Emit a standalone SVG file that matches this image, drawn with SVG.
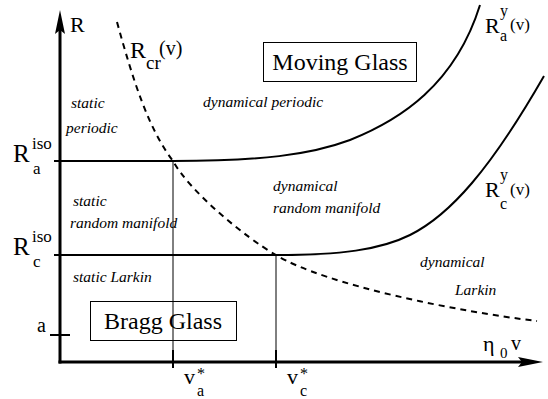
<svg xmlns="http://www.w3.org/2000/svg" width="548" height="399" viewBox="0 0 548 399">
<style>
text{font-family:"Liberation Serif","Times New Roman",serif;fill:#000}
.it{font-style:italic;font-size:15.5px}
.big{font-size:24px}
.ax{stroke:#000;stroke-width:3;fill:none}
.ln{stroke:#000;stroke-width:2;fill:none}
.thin{stroke:#000;stroke-width:1;fill:none}
.dash{stroke:#000;stroke-width:2;fill:none;stroke-dasharray:6 5}
.box{stroke:#000;stroke-width:1;fill:none}
</style>
<rect width="548" height="399" fill="#fff"/>
<g id="connectors">
  <line class="ax" x1="60" y1="363.5" x2="60" y2="28"/>
  <polygon points="60,10 55,34 60,30 65,34" fill="#000"/>
  <line class="ax" x1="58.5" y1="362" x2="525" y2="362"/>
  <polygon points="543,362 518,357 522,362 518,367" fill="#000"/>
  <line class="ln" x1="50" y1="335" x2="70" y2="335"/>
  <line class="thin" x1="173" y1="161" x2="173" y2="362"/>
  <line class="thin" x1="276" y1="255" x2="276" y2="362"/>
  <line class="ln" x1="173" y1="350" x2="173" y2="368"/>
  <line class="ln" x1="276" y1="350" x2="276" y2="368"/>
  <path id="Ra" class="ln" d="M54,161 L173,161 C260,161 310,155 350,140 C400,120 455,85 480,5"/>
  <path id="Rc" class="ln" d="M54,255 L276,255 C340,255 380,250 410,235 C450,215 490,170 544,76"/>
  <path id="Rcr" class="dash" d="M117,22 C133,80 148,128 173,161 C190,192 246,238 276,255 C325,285 460,312 537,321"/>
</g>
<g id="axis-labels">
  <text x="70" y="32" font-size="22">R</text>
  <text x="483" y="351" font-size="22">η</text>
  <text x="500" y="358" font-size="15">0</text>
  <text x="511" y="350" font-size="20">v</text>
  <text x="37" y="332" font-size="20">a</text>
</g>
<g id="Ra-iso">
  <text x="13" y="162" font-size="25">R</text>
  <text x="32" y="149" font-size="17">iso</text>
  <text x="33" y="174" font-size="17">a</text>
</g>
<g id="Rc-iso">
  <text x="13" y="255" font-size="25">R</text>
  <text x="32" y="242" font-size="17">iso</text>
  <text x="33" y="267" font-size="17">c</text>
</g>
<g id="Rcr-label">
  <text x="130" y="58" font-size="24">R</text>
  <text x="146" y="69" font-size="19">cr</text>
  <text x="159" y="55" font-size="20">(v)</text>
</g>
<g id="Ray-label">
  <text x="485" y="33" font-size="22">R</text>
  <text x="500" y="16" font-size="16">y</text>
  <text x="500" y="41" font-size="16">a</text>
  <text x="510" y="30" font-size="17">(v)</text>
</g>
<g id="Rcy-label">
  <text x="485" y="197" font-size="22">R</text>
  <text x="500" y="180" font-size="16">y</text>
  <text x="500" y="209" font-size="16">c</text>
  <text x="510" y="195" font-size="17">(v)</text>
</g>
<g id="va-label">
  <text x="184" y="384" font-size="22">v</text>
  <text x="197" y="379" font-size="16">*</text>
  <text x="197" y="396" font-size="16">a</text>
</g>
<g id="vc-label">
  <text x="287" y="384" font-size="22">v</text>
  <text x="300" y="379" font-size="16">*</text>
  <text x="300" y="396" font-size="16">c</text>
</g>
<g id="moving-glass">
  <rect class="box" x="263.5" y="42.5" width="153" height="39"/>
  <text class="big" x="340" y="70" text-anchor="middle">Moving Glass</text>
</g>
<g id="bragg-glass">
  <rect class="box" x="90.5" y="301.5" width="146" height="39"/>
  <text class="big" x="163" y="329" text-anchor="middle">Bragg Glass</text>
</g>
<g id="regions">
  <text class="it" x="71" y="108">static</text>
  <text class="it" x="66" y="133">periodic</text>
  <text class="it" x="203" y="107">dynamical periodic</text>
  <text class="it" x="73" y="206">static</text>
  <text class="it" x="70" y="228">random manifold</text>
  <text class="it" x="273" y="191">dynamical</text>
  <text class="it" x="273" y="213">random manifold</text>
  <text class="it" x="73" y="282">static Larkin</text>
  <text class="it" x="420" y="267">dynamical</text>
  <text class="it" x="455" y="295">Larkin</text>
</g>
</svg>
